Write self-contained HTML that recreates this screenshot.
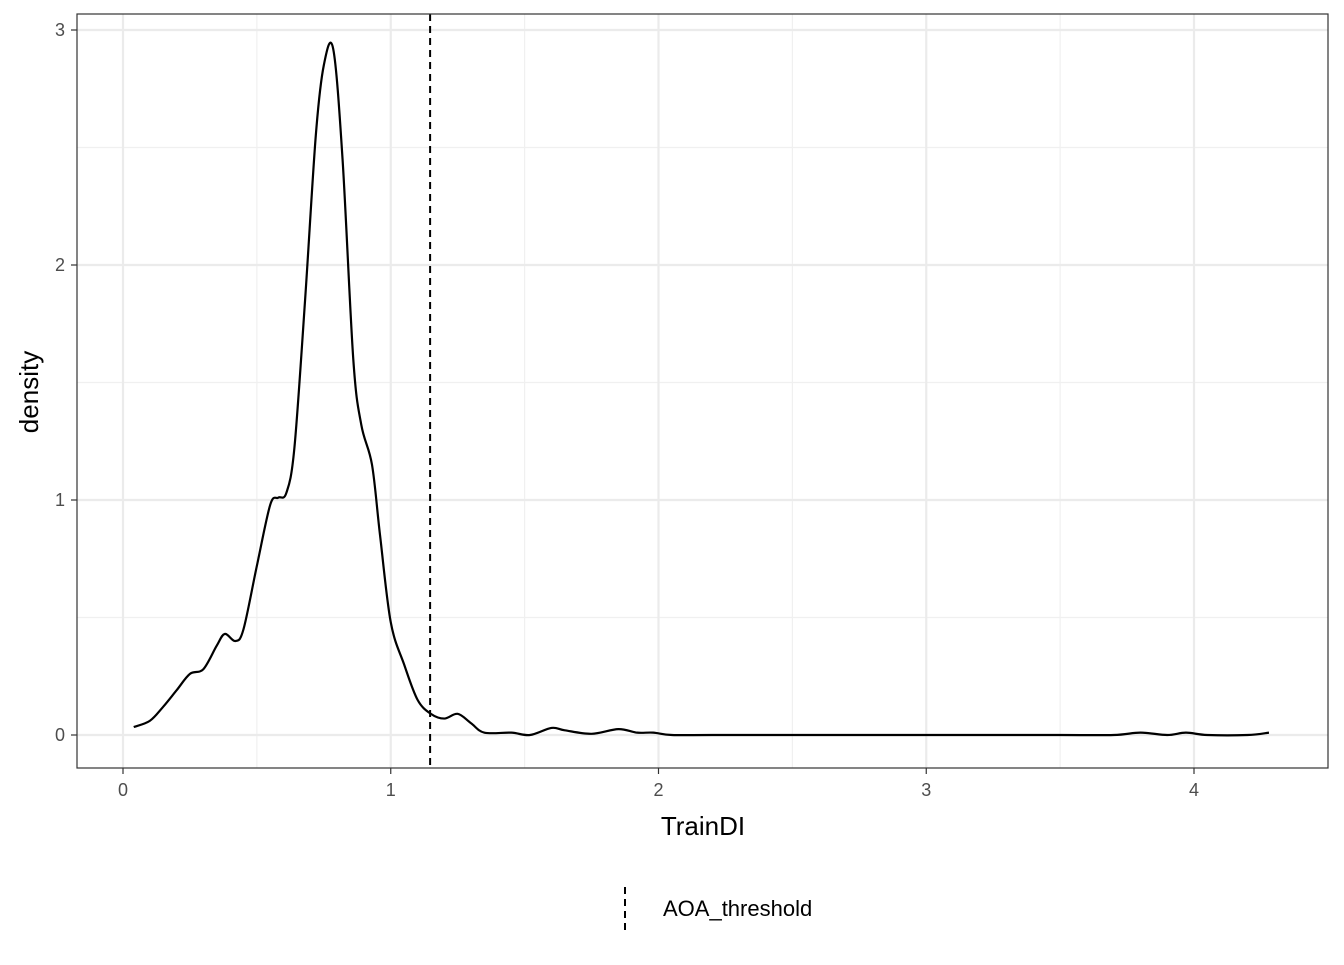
<!DOCTYPE html>
<html><head><meta charset="utf-8"><style>
body{margin:0;background:#fff;}
svg text{font-family:"Liberation Sans",sans-serif;}
</style></head><body>
<svg id="chart" width="1344" height="960">
<rect x="77" y="14" width="1251" height="754" fill="#fff"/>
<g id="grid"></g>
<path id="curve" fill="none" stroke="#000" stroke-width="2.2"/>
<line id="thr" y1="14" y2="768" stroke="#000" stroke-width="2" stroke-dasharray="7,5"/>
<rect x="77" y="14" width="1251" height="754" fill="none" stroke="#333" stroke-width="1.2"/>
<g id="ticks"></g>
<text x="703" y="835" font-size="26" text-anchor="middle" fill="#000">TrainDI</text>
<text transform="translate(38,392) rotate(-90)" font-size="26" text-anchor="middle" fill="#000">density</text>
<g>
<line x1="625" y1="887" x2="625" y2="930" stroke="#000" stroke-width="2" stroke-dasharray="7,5"/>
<text x="663" y="916" font-size="22" fill="#000">AOA_threshold</text>
</g>
</svg>
<script>
const xVals=[0.04,0.1,0.15,0.2,0.25,0.3,0.35,0.38,0.42,0.45,0.5,0.55,0.58,0.61,0.64,0.68,0.72,0.75,0.785,0.82,0.86,0.89,0.93,0.96,1.0,1.05,1.1,1.15,1.2,1.25,1.3,1.35,1.45,1.52,1.6,1.65,1.75,1.85,1.92,1.98,2.05,2.2,2.5,3.0,3.5,3.7,3.8,3.9,3.97,4.05,4.2,4.28];
const yVals=[0.034,0.06,0.12,0.19,0.26,0.28,0.38,0.43,0.40,0.45,0.72,0.98,1.01,1.03,1.22,1.85,2.55,2.85,2.92,2.45,1.6,1.32,1.15,0.85,0.48,0.3,0.15,0.09,0.07,0.09,0.05,0.01,0.01,0.0,0.03,0.02,0.005,0.025,0.01,0.01,0,0,0,0,0,0,0.01,0,0.01,0,0,0.01];
const threshold=1.147;
const xTicks=[0,1,2,3,4];
const yTicks=[0,1,2,3];
const X=v=>123+v*267.75, Y=v=>735-v*235;
const NS="http://www.w3.org/2000/svg";
const grid=document.getElementById('grid'), ticks=document.getElementById('ticks');
function mk(tag,attrs,parent){const e=document.createElementNS(NS,tag);for(const k in attrs)e.setAttribute(k,attrs[k]);parent.appendChild(e);return e;}
[0.5,1.5,2.5,3.5].forEach(v=>{const l=mk('line',{x1:X(v),x2:X(v),y1:14,y2:768,stroke:'#f0f0f0','stroke-width':1.2},grid);

});
[0.5,1.5,2.5].forEach(v=>{const l=mk('line',{x1:77,x2:1328,y1:Y(v),y2:Y(v),stroke:'#f0f0f0','stroke-width':1.2},grid);

});
xTicks.forEach(v=>{const l=mk('line',{x1:X(v),x2:X(v),y1:14,y2:768,stroke:'#ebebeb','stroke-width':2.2},grid);


const t=mk('line',{x1:X(v),x2:X(v),y1:768,y2:774,stroke:'#333','stroke-width':1.2},ticks);


const tx=mk('text',{x:X(v),y:796,'font-size':18,'text-anchor':'middle',fill:'#4d4d4d'},ticks);tx.textContent=v;

});
yTicks.forEach(v=>{const l=mk('line',{x1:77,x2:1328,y1:Y(v),y2:Y(v),stroke:'#ebebeb','stroke-width':2.2},grid);


const t=mk('line',{x1:71,x2:77,y1:Y(v),y2:Y(v),stroke:'#333','stroke-width':1.2},ticks);


const tx=mk('text',{x:65,y:Y(v)+6,'font-size':18,'text-anchor':'end',fill:'#4d4d4d'},ticks);tx.textContent=v;

});
const P=xVals.map((x,i)=>[X(x),Y(yVals[i])]);
let d='M'+P[0][0]+','+P[0][1];
for(let i=0;i<P.length-1;i++){const p0=P[i-1]||P[i],p1=P[i],p2=P[i+1],p3=P[i+2]||p2;
const c1=[p1[0]+(p2[0]-p0[0])/6,p1[1]+(p2[1]-p0[1])/6],c2=[p2[0]-(p3[0]-p1[0])/6,p2[1]-(p3[1]-p1[1])/6];
d+=`C${c1[0]},${c1[1]} ${c2[0]},${c2[1]} ${p2[0]},${p2[1]}`;}
document.getElementById('curve').setAttribute('d',d);
const th=document.getElementById('thr');th.setAttribute('x1',X(threshold));th.setAttribute('x2',X(threshold));
</script>
</body></html>
